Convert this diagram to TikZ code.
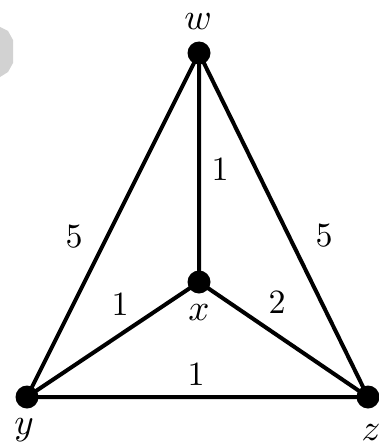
\documentclass[tikz,border=0pt]{standalone}
\usepackage{amsmath, amssymb}
\tikzset{
  edge/.style={line width=4pt},
  wt/.style={scale=3.4,transform shape,inner sep=0pt},
  vlab/.style={scale=3.7,transform shape,inner sep=0pt},
}

\begin{document}
\begin{tikzpicture}[x=1pt,y=-1pt]
  \useasboundingbox (0,0) rectangle (378,444);
  \fill[gray!35] (0,27)--(8,31)--(13,40)--(13,63)--(8,72)--(0,77)--cycle;
  \coordinate (w) at (199,53);
  \coordinate (x) at (199,282);
  \coordinate (y) at (27,397);
  \coordinate (z) at (368,397);
  \draw[edge] (w)--(x) (w)--(y) (w)--(z) (x)--(y) (x)--(z) (y)--(z);
  \foreach \v in {w,x,y,z} \fill (\v) circle(11.5pt);
  % edge weights
  \node[wt] (wx) at (220,170) {$1$};
  \node[wt] (wy) at (74,237) {$5$};
  \node[wt] (wz) at (324,236) {$5$};
  \node[wt] (xy) at (120,305) {$1$};
  \node[wt] (xz) at (277,303) {$2$};
  \node[wt] (yz) at (196,375) {$1$};
  % vertex names
  \node[vlab] (lw) at (198,22) {$w$};
  \node[vlab] (lx) at (199,313) {$x$};
  \node[vlab] (ly) at (24,430) {$y$};
  \node[vlab] (lz) at (371,433) {$z$};
\end{tikzpicture}
\end{document}
